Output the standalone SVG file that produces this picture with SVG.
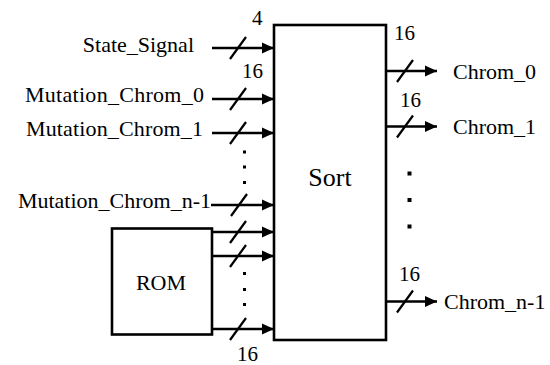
<svg xmlns="http://www.w3.org/2000/svg" width="550" height="365" viewBox="0 0 550 365">
<style>
text{font-family:'Liberation Serif','Times New Roman',serif;fill:#000}
.lbl{font-size:22px}
.num{font-size:21px}
.box{fill:#fff;stroke:#000;stroke-width:2.6}
.wire{stroke:#000;stroke-width:2.5;fill:none}
.slash{stroke:#000;stroke-width:2.2;fill:none}
.dot{fill:#000}
</style>
<defs>
<marker id="ah" markerUnits="userSpaceOnUse" markerWidth="14" markerHeight="14" viewBox="0 0 14 14" refX="13" refY="7" orient="auto">
<path d="M1,1.5 L13,7 L1,12.5 Z" fill="#000"/>
</marker>
</defs>
<g id="sort">
<rect class="box" x="274" y="25" width="112" height="315"/>
<text x="330" y="186" font-size="26" text-anchor="middle">Sort</text>
</g>
<g id="rom">
<rect class="box" x="112" y="228.5" width="100" height="106"/>
<text class="lbl" x="161" y="290" text-anchor="middle">ROM</text>
</g>
<g id="labels">
<text class="lbl" x="194" y="52" text-anchor="end">State_Signal</text>
<text class="lbl" x="204" y="102" text-anchor="end" textLength="179" lengthAdjust="spacing">Mutation_Chrom_0</text>
<text class="lbl" x="203" y="136" text-anchor="end" textLength="177" lengthAdjust="spacing">Mutation_Chrom_1</text>
<text class="lbl" x="211" y="208" text-anchor="end">Mutation_Chrom_n-1</text>
<text class="lbl" x="453" y="79">Chrom_0</text>
<text class="lbl" x="453" y="134">Chrom_1</text>
<text class="lbl" x="444" y="309">Chrom_n-1</text>
<text class="num" x="252" y="25">4</text>
<text class="num" x="242" y="78">16</text>
<text class="num" x="394" y="40">16</text>
<text class="num" x="400" y="107">16</text>
<text class="num" x="399" y="281">16</text>
<text class="num" x="237" y="361">16</text>
</g>
<g id="connectors">
<line class="wire" x1="212" y1="48" x2="274" y2="48" marker-end="url(#ah)"/>
<line class="wire" x1="212" y1="99" x2="274" y2="99" marker-end="url(#ah)"/>
<line class="wire" x1="212" y1="133" x2="274" y2="133" marker-end="url(#ah)"/>
<line class="wire" x1="211" y1="205" x2="274" y2="205" marker-end="url(#ah)"/>
<line class="wire" x1="212" y1="232" x2="274" y2="232" marker-end="url(#ah)"/>
<line class="wire" x1="212" y1="256" x2="274" y2="256" marker-end="url(#ah)"/>
<line class="wire" x1="212" y1="329" x2="274" y2="329" marker-end="url(#ah)"/>
<line class="wire" x1="386" y1="71" x2="437" y2="71" marker-end="url(#ah)"/>
<line class="wire" x1="386" y1="126.5" x2="437" y2="126.5" marker-end="url(#ah)"/>
<line class="wire" x1="386" y1="301.5" x2="437" y2="301.5" marker-end="url(#ah)"/>
<line class="slash" x1="230" y1="59" x2="246" y2="37"/>
<line class="slash" x1="230" y1="110" x2="246" y2="88"/>
<line class="slash" x1="230" y1="144" x2="246" y2="122"/>
<line class="slash" x1="231" y1="216" x2="247" y2="194"/>
<line class="slash" x1="230" y1="243" x2="246" y2="221"/>
<line class="slash" x1="230" y1="267" x2="246" y2="245"/>
<line class="slash" x1="230" y1="340" x2="246" y2="318"/>
<line class="slash" x1="397" y1="82" x2="413" y2="60"/>
<line class="slash" x1="397" y1="137.5" x2="413" y2="115.5"/>
<line class="slash" x1="397" y1="312.5" x2="413" y2="290.5"/>
</g>
<g id="dots">
<rect class="dot" x="243" y="150.5" width="3" height="3"/>
<rect class="dot" x="243" y="165.5" width="3" height="3"/>
<rect class="dot" x="243" y="181" width="3" height="3"/>
<rect class="dot" x="243" y="272" width="3" height="3"/>
<rect class="dot" x="243" y="288" width="3" height="3"/>
<rect class="dot" x="243" y="303" width="3" height="3"/>
<rect class="dot" x="407.5" y="171.5" width="4" height="4"/>
<rect class="dot" x="407.5" y="198" width="4" height="4"/>
<rect class="dot" x="407.5" y="224.5" width="4" height="4"/>
</g>
</svg>
